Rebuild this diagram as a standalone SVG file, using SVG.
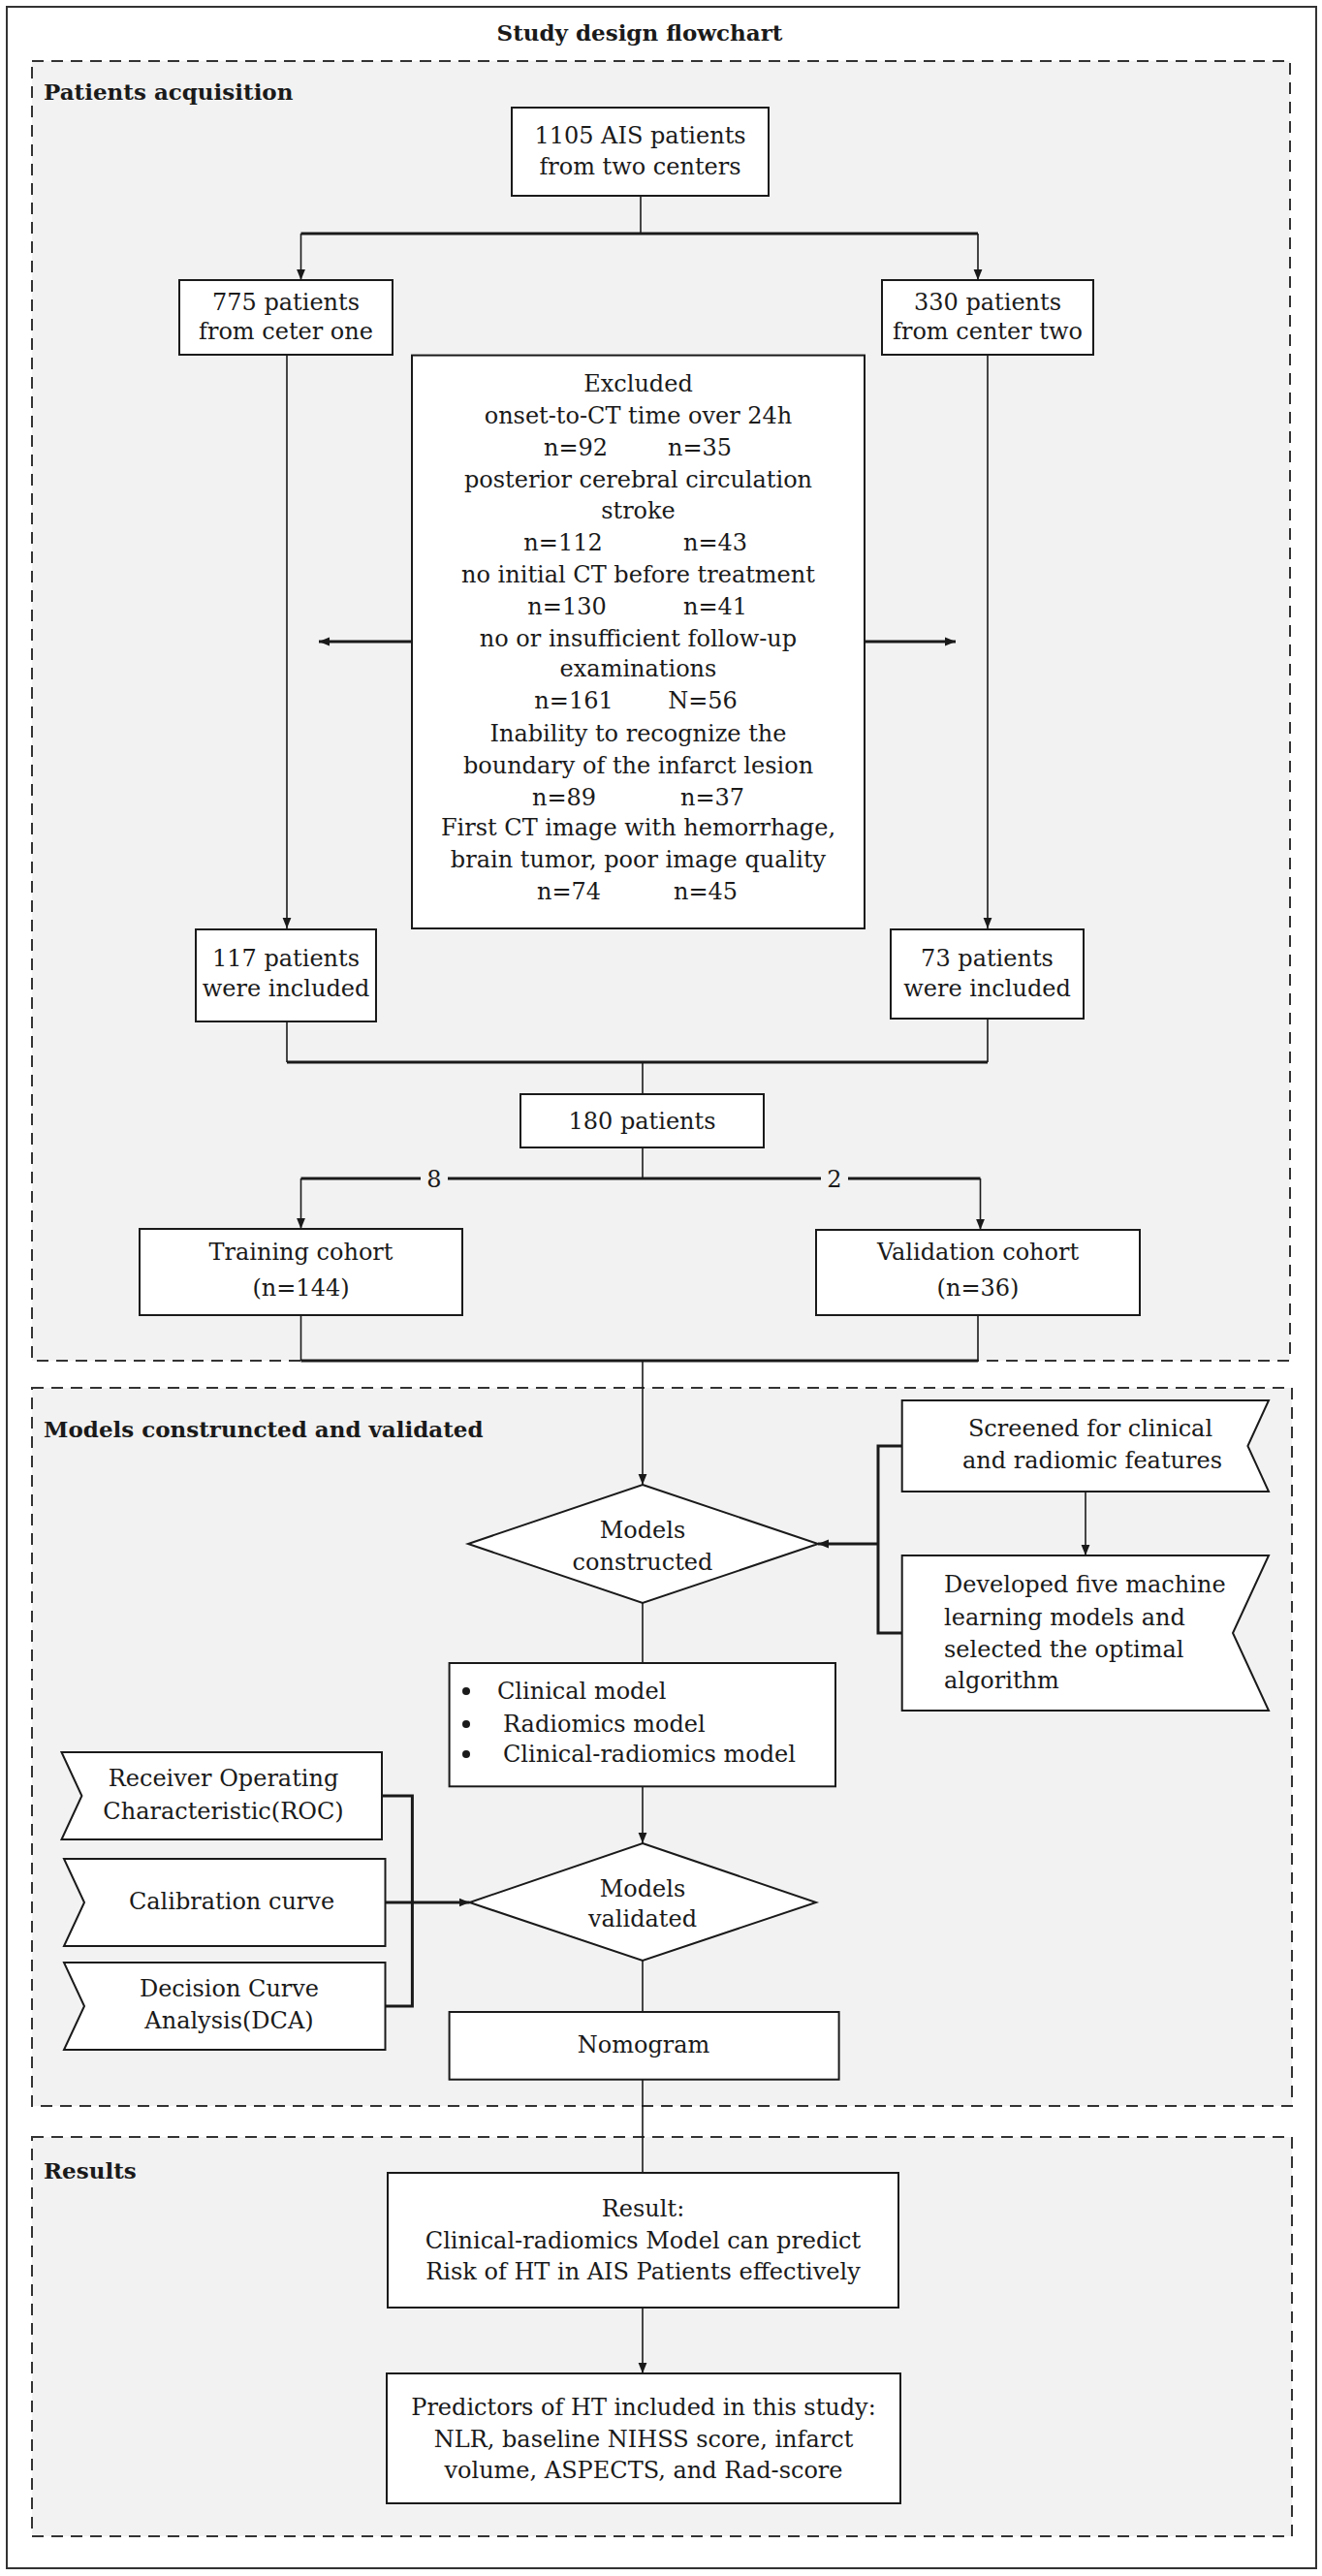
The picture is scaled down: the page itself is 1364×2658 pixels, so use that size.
<svg xmlns="http://www.w3.org/2000/svg" width="1364" height="2658" viewBox="0 0 1364 2658">
<defs>
<marker id="ah" viewBox="0 0 10 10" refX="10" refY="5" markerWidth="11" markerHeight="11" markerUnits="userSpaceOnUse" orient="auto">
<path d="M0,1 L10,5 L0,9 Z" fill="#1a1a1a"/>
</marker>
<style>
text{font-family:"DejaVu Serif","Liberation Serif",serif;font-size:24px;fill:#1a1a1a}
.c{text-anchor:middle}
.b{font-weight:bold;font-size:23px}
.box{fill:#ffffff;stroke:#1a1a1a;stroke-width:2}
.sec{fill:#f2f2f2;stroke:#333;stroke-width:2;stroke-dasharray:12 8}
.ln{fill:none;stroke:#1a1a1a;stroke-width:1.6}
.hl{fill:none;stroke:#1a1a1a;stroke-width:3}
.ar{marker-end:url(#ah)}
</style>
</defs>
<rect x="0" y="0" width="1364" height="2658" fill="#ffffff"/>
<rect x="7" y="7" width="1351" height="2643" fill="#ffffff" stroke="#333" stroke-width="2"/>
<text class="c b" x="660" y="42">Study design flowchart</text>

<g id="section-acquisition">
<rect class="sec" x="33" y="63" width="1298" height="1341"/>
<text class="b" x="45" y="103">Patients acquisition</text>
</g>
<g id="section-models">
<rect class="sec" x="33" y="1432" width="1300" height="741"/>
<text class="b" x="45" y="1483">Models construncted and validated</text>
</g>
<g id="section-results">
<rect class="sec" x="33" y="2205" width="1300" height="412"/>
<text class="b" x="45" y="2248">Results</text>
</g>

<g id="connectors">
<path class="ln" d="M661,202 V241"/>
<path class="hl" d="M310.5,241 H1009"/>
<path class="ln ar" d="M310.5,241 V289"/>
<path class="ln ar" d="M1009,241 V289"/>
<path class="ln ar" d="M296,366 V958"/>
<path class="ln ar" d="M1019,366 V958"/>
<path class="hl ar" d="M425,662 H329"/>
<path class="hl ar" d="M892,662 H986"/>
<path class="ln" d="M296,1054 V1096"/>
<path class="ln" d="M1019,1051 V1096"/>
<path class="hl" d="M296,1096 H1019"/>
<path class="ln" d="M663,1096 V1129"/>
<path class="ln" d="M663,1184 V1216"/>
<path class="hl" d="M310.5,1216 H1011.5"/>
<path class="ln ar" d="M310.5,1216 V1268"/>
<path class="ln ar" d="M1011.5,1216 V1269"/>
<path class="ln" d="M310.5,1357 V1404"/>
<path class="ln" d="M1009,1357 V1404"/>
<path class="hl" d="M310.5,1404 H1009"/>
<path class="ln ar" d="M663,1404 V1532"/>
<path class="ln ar" d="M1120,1539 V1605"/>
<path class="hl" d="M930.7,1492 H906 V1685 H930.7"/>
<path class="hl ar" d="M906,1593 H844"/>
<path class="ln" d="M663,1654 V1716"/>
<path class="ln ar" d="M663,1843 V1902"/>
<path class="hl" d="M394,1853 H425.4 V2070 H397.5"/>
<path class="hl ar" d="M397.5,1963 H484.5"/>
<path class="ln" d="M663,2023 V2076"/>
<path class="ln" d="M663,2146 V2242"/>
<path class="ln ar" d="M663,2381 V2449"/>
<rect x="434" y="1202" width="28" height="28" fill="#f2f2f2"/>
<text class="c" x="448" y="1225">8</text>
<rect x="847" y="1202" width="28" height="28" fill="#f2f2f2"/>
<text class="c" x="861" y="1225">2</text>
</g>

<g id="n-1105">
<rect class="box" x="528" y="111" width="265" height="91"/>
<text class="c" x="660.5" y="148">1105 AIS patients</text>
<text class="c" x="660.5" y="180">from two centers</text>
</g>
<g id="n-775">
<rect class="box" x="185" y="289" width="220" height="77"/>
<text class="c" x="295" y="320">775 patients</text>
<text class="c" x="295" y="350">from ceter one</text>
</g>
<g id="n-330">
<rect class="box" x="910" y="289" width="218" height="77"/>
<text class="c" x="1019" y="320">330 patients</text>
<text class="c" x="1019" y="350">from center two</text>
</g>
<g id="n-excluded">
<rect class="box" x="425" y="366.6" width="467" height="591.4"/>
<text class="c" x="658.5" y="404">Excluded</text>
<text class="c" x="658.5" y="437">onset-to-CT time over 24h</text>
<text class="c" y="470"><tspan x="594">n=92</tspan><tspan x="722">n=35</tspan></text>
<text class="c" x="658.5" y="503">posterior cerebral circulation</text>
<text class="c" x="658.5" y="535">stroke</text>
<text class="c" y="568"><tspan x="581">n=112</tspan><tspan x="738">n=43</tspan></text>
<text class="c" x="658.5" y="601">no initial CT before treatment</text>
<text class="c" y="634"><tspan x="585">n=130</tspan><tspan x="738">n=41</tspan></text>
<text class="c" x="658.5" y="667">no or insufficient follow-up</text>
<text class="c" x="658.5" y="698">examinations</text>
<text class="c" y="731"><tspan x="592">n=161</tspan><tspan x="725">N=56</tspan></text>
<text class="c" x="658.5" y="765">Inability to recognize the</text>
<text class="c" x="658.5" y="798">boundary of the infarct lesion</text>
<text class="c" y="831"><tspan x="582">n=89</tspan><tspan x="735">n=37</tspan></text>
<text class="c" x="658.5" y="862">First CT image with hemorrhage,</text>
<text class="c" x="658.5" y="895">brain tumor, poor image quality</text>
<text class="c" y="928"><tspan x="587">n=74</tspan><tspan x="728">n=45</tspan></text>
</g>
<g id="n-117">
<rect class="box" x="202" y="959" width="186" height="95"/>
<text class="c" x="295" y="997">117 patients</text>
<text class="c" x="295" y="1028">were included</text>
</g>
<g id="n-73">
<rect class="box" x="919" y="959" width="199" height="92"/>
<text class="c" x="1018.5" y="997">73 patients</text>
<text class="c" x="1018.5" y="1028">were included</text>
</g>
<g id="n-180">
<rect class="box" x="537" y="1129" width="251" height="55"/>
<text class="c" x="662.5" y="1165">180 patients</text>
</g>
<g id="n-training">
<rect class="box" x="144" y="1268" width="333" height="89"/>
<text class="c" x="310.5" y="1300">Training cohort</text>
<text class="c" x="310.5" y="1337">(n=144)</text>
</g>
<g id="n-validation">
<rect class="box" x="842" y="1269" width="334" height="88"/>
<text class="c" x="1009" y="1300">Validation cohort</text>
<text class="c" x="1009" y="1337">(n=36)</text>
</g>
<g id="n-constructed">
<polygon class="box" points="663,1532 844,1593 663,1654 483,1593"/>
<text class="c" x="663" y="1587">Models</text>
<text class="c" x="663" y="1620">constructed</text>
</g>
<g id="n-screened">
<polygon class="box" points="930.7,1445 1309,1445 1287.4,1492 1309,1539 930.7,1539"/>
<text class="c" x="1125" y="1482">Screened for clinical</text>
<text class="c" x="1127" y="1515">and radiomic features</text>
</g>
<g id="n-developed">
<polygon class="box" points="930.7,1605 1309,1605 1272,1685 1309,1765 930.7,1765"/>
<text x="974" y="1643">Developed five machine</text>
<text x="974" y="1677">learning models and</text>
<text x="974" y="1710">selected the optimal</text>
<text x="974" y="1742">algorithm</text>
</g>
<g id="n-models">
<rect class="box" x="463.6" y="1716" width="398.4" height="127.3"/>
<circle cx="481" cy="1745" r="4" fill="#1a1a1a"/>
<text x="513" y="1753">Clinical model</text>
<circle cx="481" cy="1779" r="4" fill="#1a1a1a"/>
<text x="519" y="1787">Radiomics model</text>
<circle cx="481" cy="1810" r="4" fill="#1a1a1a"/>
<text x="519" y="1818">Clinical-radiomics model</text>
</g>
<g id="n-roc">
<polygon class="box" points="63.5,1808 394,1808 394,1898 63.5,1898 84.4,1853"/>
<text class="c" x="230.5" y="1843">Receiver Operating</text>
<text class="c" x="230.5" y="1877">Characteristic(ROC)</text>
</g>
<g id="n-calibration">
<polygon class="box" points="66,1918 397.5,1918 397.5,2008 66,2008 87,1963"/>
<text class="c" x="239" y="1970">Calibration curve</text>
</g>
<g id="n-dca">
<polygon class="box" points="66,2025 397.5,2025 397.5,2115 66,2115 87,2070"/>
<text class="c" x="236.5" y="2060">Decision Curve</text>
<text class="c" x="236.5" y="2093">Analysis(DCA)</text>
</g>
<g id="n-validated">
<polygon class="box" points="663,1902 842,1963 663,2023 484.5,1963"/>
<text class="c" x="663" y="1957">Models</text>
<text class="c" x="663" y="1988">validated</text>
</g>
<g id="n-nomogram">
<rect class="box" x="463.6" y="2076" width="402" height="69.7"/>
<text class="c" x="664" y="2118">Nomogram</text>
</g>
<g id="n-result">
<rect class="box" x="400" y="2242" width="527" height="139"/>
<text class="c" x="663.5" y="2287">Result:</text>
<text class="c" x="663.5" y="2320">Clinical-radiomics Model can predict</text>
<text class="c" x="663.5" y="2352">Risk of HT in AIS Patients effectively</text>
</g>
<g id="n-predictors">
<rect class="box" x="399" y="2449" width="530" height="134"/>
<text class="c" x="664" y="2492">Predictors of HT included in this study:</text>
<text class="c" x="664" y="2525">NLR, baseline NIHSS score, infarct</text>
<text class="c" x="664" y="2557">volume, ASPECTS, and Rad-score</text>
</g>
</svg>
